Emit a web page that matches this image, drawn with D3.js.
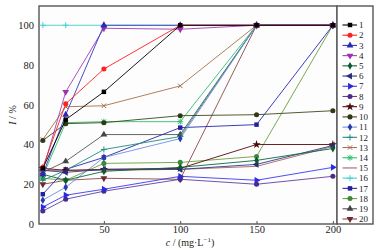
<!DOCTYPE html>
<html lang="en">
<head>
<meta charset="utf-8">
<title>I vs c</title>
<script src="https://d3js.org/d3.v7.min.js"></script>
<style type="text/css">
body { margin: 0; background: #fff; }
text { font-family: "Liberation Serif", "DejaVu Serif", serif; }
</style>
</head>
<body>
<div id="chart"></div>
<script type="text/javascript">
// concentrations (mg/L)
var conc = [10, 25, 50, 100, 150, 200];

// I (%) per sample
var s1  = [28, 52.5, 66.5, 100, 100, 100];
var s2  = [28.5, 60.5, 78, 100, 100, 100];
var s3  = [25, 55, 100, 100, 100, 100];
var s4  = [27, 66.5, 98.5, 98, 100, 100];
var s5  = [25, 22, 26.5, 28.5, 32, 38];
var s6  = [27, 26, 27.5, 27.5, 30, 39.5];
var s7  = [8.5, 14.5, 17.5, 24, 22, 28.5];
var s8  = [6.5, 12.5, 16.5, 22.5, 20, 24];
var s9  = [28, 27, 27.5, 28, 40, 40];
var s10 = [42, 50.5, 51, 54.5, 55, 57];
var s11 = [12, 18.5, 33.5, 43, 100, 100];
var s12 = [22, 27, 37.5, 44, 100, 100];
var s13 = [42.5, 59, 59.5, 69.5, 100, 100];
var s14 = [24, 51, 51.5, 51.5, 100, 100];
var s15 = [27, 27, 27, 27.5, 29, 39];
var s16 = [100, 100, 100, 100, 100, 100];
var s17 = [15, 27.5, 33.5, 48.5, 50, 100];
var s18 = [23, 22, 30.5, 31, 34, 100];
var s19 = [26, 31.5, 45, 45, 100, 100];
var s20 = [20, 22, 23, 22.5, 100, 100];

var seriesNames = ["1","2","3","4","5","6","7","8","9","10","11","12","13","14","15","16","17","18","19","20"];
var seriesVals = [s1,s2,s3,s4,s5,s6,s7,s8,s9,s10,s11,s12,s13,s14,s15,s16,s17,s18,s19,s20];
var lineColors = ["#000000","#ff2020","#3838c0","#a040b0","#0a6a3a","#34348a","#3a3af0","#6040a0","#5a0a0a","#3c4a1c",
                  "#6f8fe0","#1f8f80","#a8704a","#30c070","#a06868","#40d0d0","#2828b0","#6aa040","#555555","#8a4a4a"];
var markerColors = ["#000000","#ff2020","#2a2ab0","#a030b0","#0a5a30","#2a2a7a","#2a2ae0","#4a2a8a","#4a0a0a","#2e3a16",
                    "#2a3aa8","#1f8f80","#a8704a","#30c070","#a06868","#40d0d0","#2020a0","#3a8a3a","#444444","#6a2a2a"];
var markers = ["square","circle","tri","tridown","diamond","trileft","triright","circle","star","circle",
               "diamond","plus","cross","asterisk","none","plus","square","circle","tri","tridown"];

var w = 390, h = 250;
var mLeft = 39, mRight = 337, mTop = 6, mBottom = 224;

var xScale = d3.scaleLinear().domain([7.5, 202.7]).range([mLeft, mRight]);
var yScale = d3.scaleLinear().domain([0, 109.7]).range([mBottom, mTop]);

var svg = d3.select("#chart").append("svg")
  .attr("width", w).attr("height", h);

// frame
svg.append("rect").attr("x", mLeft).attr("y", mTop)
  .attr("width", mRight - mLeft).attr("height", mBottom - mTop)
  .attr("fill", "#fdfdfd").attr("stroke", "#555").attr("stroke-width", 1.4);

// x axis
var xAxis = d3.axisBottom(xScale).tickValues([50, 100, 150, 200]).tickSize(-3).tickPadding(2);
var gx = svg.append("g").attr("transform", "translate(0," + mBottom + ")").call(xAxis);
gx.select(".domain").remove();
gx.selectAll("line").attr("stroke", "#555");
gx.selectAll("text").attr("font-size", 10.5).attr("fill", "#222")
  .style("font-family", "Liberation Serif");

// y axis
var yAxis = d3.axisLeft(yScale).tickValues([0, 20, 40, 60, 80, 100]).tickSize(0).tickPadding(5);
var gy = svg.append("g").attr("transform", "translate(" + mLeft + ",0)").call(yAxis);
gy.select(".domain").remove();
gy.selectAll("text").attr("font-size", 10.5).attr("fill", "#222")
  .style("font-family", "Liberation Serif");

// axis titles
var yt = svg.append("text").attr("transform", "translate(16," + (mTop + mBottom) / 2 + ") rotate(-90)")
  .attr("text-anchor", "middle").attr("font-size", 10).attr("fill", "#222");
yt.append("tspan").attr("font-style", "italic").text("I");
yt.append("tspan").text(" / %");

var xt = svg.append("text").attr("x", 190).attr("y", 246)
  .attr("text-anchor", "middle").attr("font-size", 10).attr("fill", "#222");
xt.append("tspan").attr("font-style", "italic").text("c");
xt.append("tspan").text(" / (mg·L");
xt.append("tspan").attr("font-size", 7).attr("dy", -4).text("−1");
xt.append("tspan").attr("dy", 4).text(")");

// marker shapes
function markerPath(type) {
  switch (type) {
    case "square": return d3.symbol().type(d3.symbolSquare).size(20)();
    case "circle": return d3.symbol().type(d3.symbolCircle).size(20)();
    case "diamond": return d3.symbol().type(d3.symbolDiamond).size(18)();
    case "tri": return d3.symbol().type(d3.symbolTriangle).size(20)();
    case "star": return d3.symbol().type(d3.symbolStar).size(22)();
    default: return null;
  }
}

function drawMarker(g, type, color, x, y) {
  var p = markerPath(type);
  if (type === "tridown" || type === "trileft" || type === "triright") {
    var rot = type === "tridown" ? 180 : (type === "trileft" ? -90 : 90);
    g.append("path").attr("d", d3.symbol().type(d3.symbolTriangle).size(20)())
      .attr("transform", "translate(" + x + "," + y + ") rotate(" + rot + ")")
      .attr("fill", color);
  } else if (type === "plus" || type === "cross" || type === "asterisk") {
    var r = 3;
    var segs = [];
    if (type === "plus" || type === "asterisk") segs.push([-r, 0, r, 0], [0, -r, 0, r]);
    if (type === "cross" || type === "asterisk") segs.push([-r * 0.75, -r * 0.75, r * 0.75, r * 0.75], [-r * 0.75, r * 0.75, r * 0.75, -r * 0.75]);
    segs.forEach(function(sg) {
      g.append("line").attr("x1", x + sg[0]).attr("y1", y + sg[1]).attr("x2", x + sg[2]).attr("y2", y + sg[3])
        .attr("stroke", color).attr("stroke-width", 1);
    });
  } else if (p) {
    g.append("path").attr("d", p).attr("transform", "translate(" + x + "," + y + ")").attr("fill", color);
  }
}

var line = d3.line().x(function(d) { return xScale(d[0]); }).y(function(d) { return yScale(d[1]); });

var plot = svg.append("g");
// draw so that low-numbered series end up on top
for (var i = seriesVals.length - 1; i >= 0; i--) {
  var pts = conc.map(function(c, j) { return [c, seriesVals[i][j]]; });
  var g = plot.append("g");
  g.append("path").datum(pts).attr("d", line)
    .attr("fill", "none").attr("stroke", lineColors[i]).attr("stroke-width", 0.9);
  pts.forEach(function(p) {
    drawMarker(g, markers[i], markerColors[i], xScale(p[0]), yScale(p[1]));
  });
}

// legend
svg.append("rect").attr("x", mRight).attr("y", mTop)
  .attr("width", 36).attr("height", mBottom - mTop)
  .attr("fill", "#fff").attr("stroke", "#555").attr("stroke-width", 1.4);

var ly = d3.scalePoint().domain(seriesNames).range([25, 219]);
seriesNames.forEach(function(name, i) {
  var y = ly(name);
  var g = svg.append("g");
  g.append("line").attr("x1", 342.5).attr("x2", 357).attr("y1", y).attr("y2", y)
    .attr("stroke", lineColors[i]).attr("stroke-width", 1.1);
  drawMarker(g, markers[i], markerColors[i], 350, y);
  g.append("text").attr("x", 359).attr("y", y + 3.2).attr("font-size", 9).attr("fill", "#222").text(name);
});
</script>
</body>
</html>
